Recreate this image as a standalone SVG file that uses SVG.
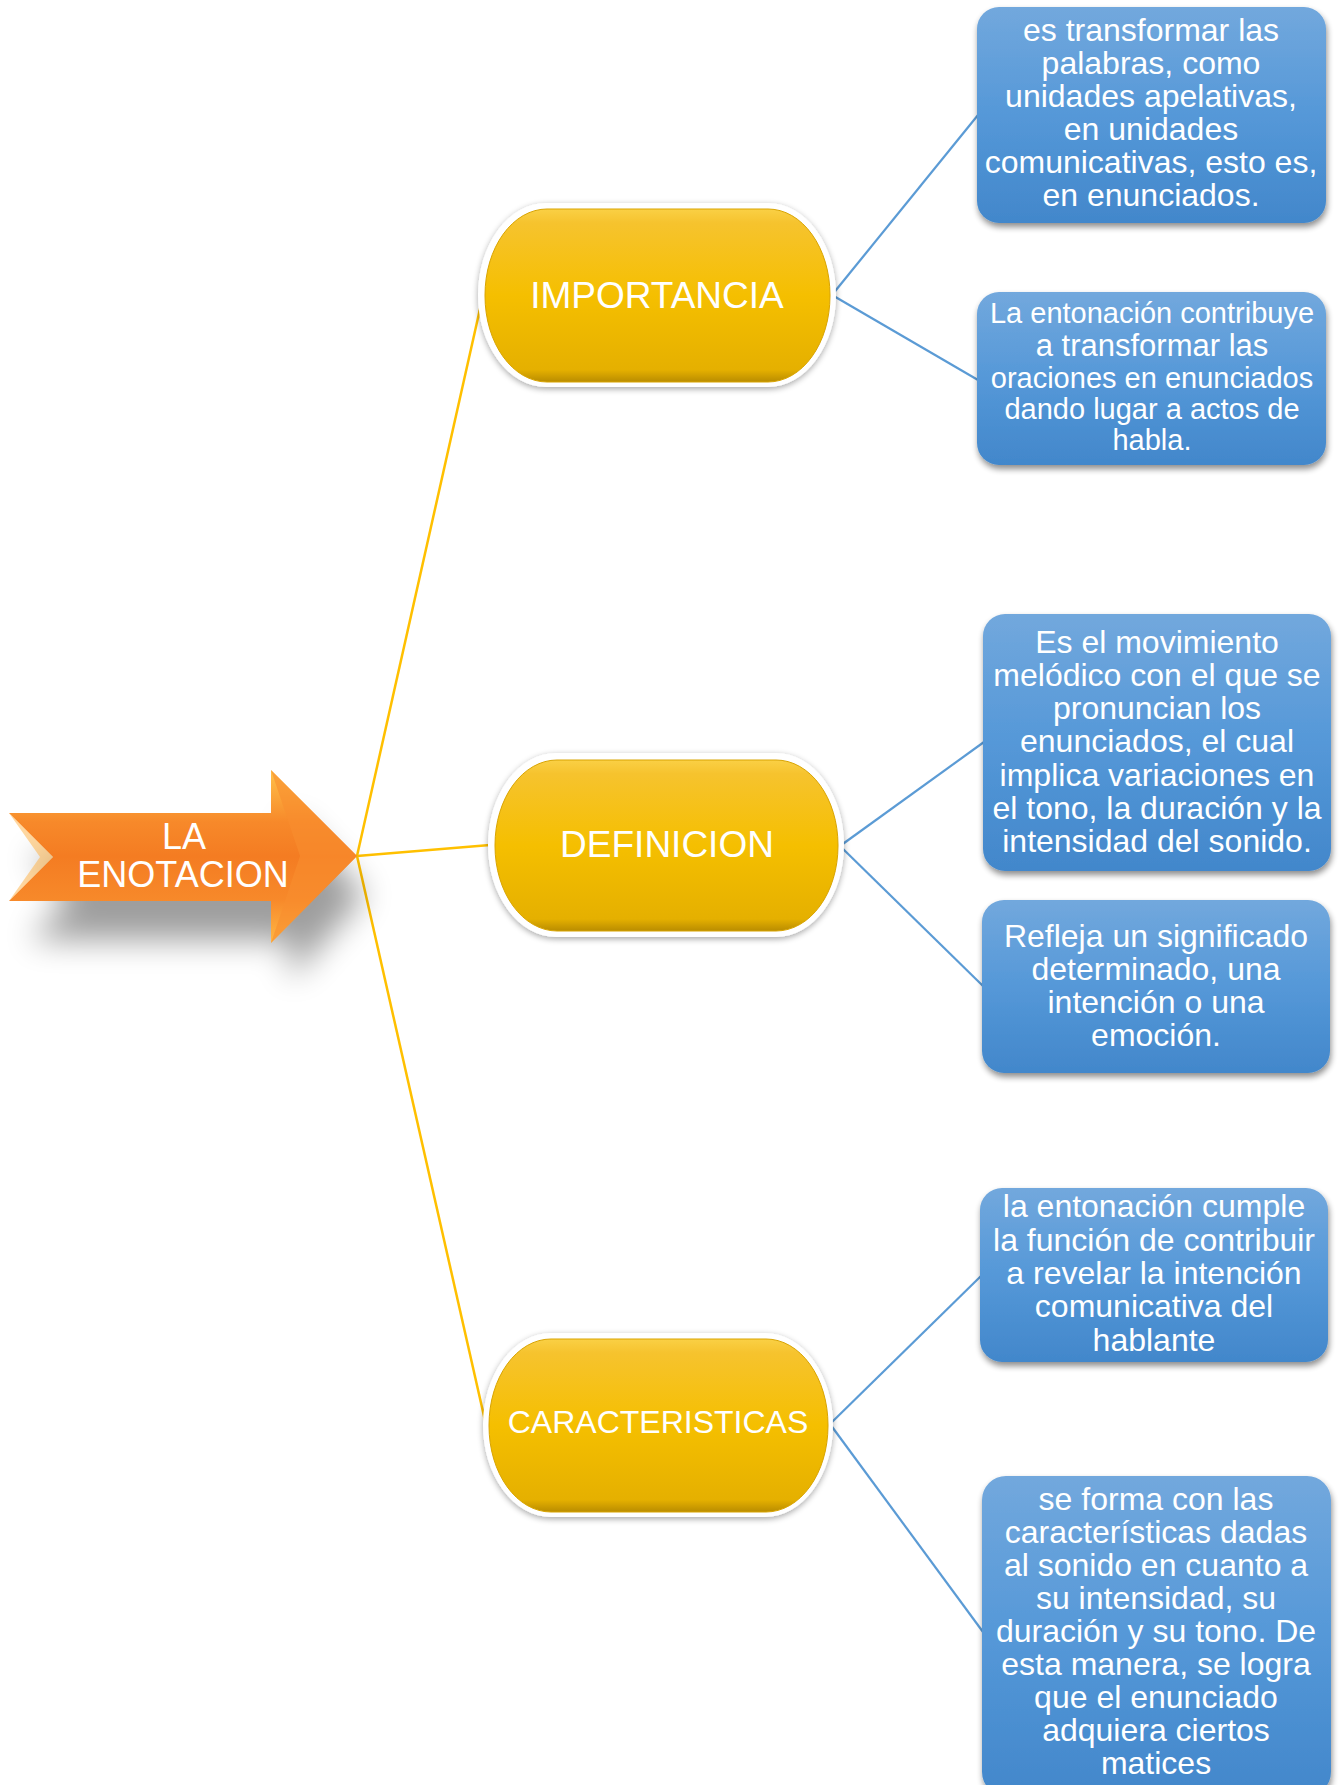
<svg xmlns="http://www.w3.org/2000/svg" width="1339" height="1785" viewBox="0 0 1339 1785">
<style>
.bt{font-family:"Liberation Sans",Arial,sans-serif;fill:#fff;text-anchor:middle;font-size:32px}
.bs{font-size:29px}
.yt{font-family:"Liberation Sans",Arial,sans-serif;fill:#fff;text-anchor:middle}
.yl{stroke:#FFC000;stroke-width:2.5;fill:none}
.bl{stroke:#5B9BD5;stroke-width:2.2;fill:none}
.box{fill:url(#gBlue);filter:url(#shB)}
.ring{fill:#fff;filter:url(#shY)}
.pill{fill:url(#gYel);stroke:#D9A400;stroke-width:1}
</style>
<defs>
<linearGradient id="gBlue" x1="0" y1="0" x2="0" y2="1">
<stop offset="0" stop-color="#72A8DD"/>
<stop offset="0.5" stop-color="#5598D8"/>
<stop offset="1" stop-color="#4287CB"/>
</linearGradient>
<linearGradient id="gYel" x1="0" y1="0" x2="0" y2="1">
<stop offset="0" stop-color="#FAD045"/>
<stop offset="0.08" stop-color="#F6C32E"/>
<stop offset="0.5" stop-color="#F5BF00"/>
<stop offset="0.93" stop-color="#E5B000"/>
<stop offset="1" stop-color="#B98C00"/>
</linearGradient>
<linearGradient id="gArrow" x1="0" y1="0" x2="0" y2="1">
<stop offset="0" stop-color="#FFC24A"/>
<stop offset="0.3" stop-color="#F7892A"/>
<stop offset="0.5" stop-color="#F47C22"/>
<stop offset="0.75" stop-color="#F7892A"/>
<stop offset="1" stop-color="#FFB845"/>
</linearGradient>
<filter id="shB" x="-10%" y="-10%" width="120%" height="130%">
<feGaussianBlur in="SourceAlpha" stdDeviation="3"/>
<feOffset dx="1" dy="4" result="o"/>
<feComponentTransfer><feFuncA type="linear" slope="0.45"/></feComponentTransfer>
<feMerge><feMergeNode/><feMergeNode in="SourceGraphic"/></feMerge>
</filter>
<filter id="shY" x="-10%" y="-10%" width="120%" height="130%">
<feGaussianBlur in="SourceAlpha" stdDeviation="3"/>
<feOffset dx="0" dy="2" result="o"/>
<feComponentTransfer><feFuncA type="linear" slope="0.35"/></feComponentTransfer>
<feMerge><feMergeNode/><feMergeNode in="SourceGraphic"/></feMerge>
</filter>
<filter id="shA" x="-30%" y="-40%" width="160%" height="200%">
<feGaussianBlur stdDeviation="16"/>
</filter>
</defs>

<g id="connectors">
<line class="yl" x1="357" y1="856" x2="482" y2="300"/>
<line class="yl" x1="357" y1="856" x2="490" y2="845"/>
<line class="yl" x1="357" y1="856" x2="486" y2="1425"/>
<line class="bl" x1="832" y1="295" x2="978" y2="115"/>
<line class="bl" x1="832" y1="295" x2="978" y2="380"/>
<line class="bl" x1="840" y1="846" x2="984" y2="742"/>
<line class="bl" x1="840" y1="846" x2="983" y2="986"/>
<line class="bl" x1="830" y1="1424" x2="981" y2="1276"/>
<line class="bl" x1="830" y1="1424" x2="983" y2="1632"/>
</g>

<g id="root">
<polygon points="30,855 290,855 290,815 365,895 290,980 290,940 30,940 70,898" fill="#000" opacity="0.38" filter="url(#shA)"/>
<polygon points="9,813 271,813 271,770 357,856 271,943 271,901 9,901 53,857" fill="url(#gArrow)"/>
<polygon points="271,770 357,856 271,943 300,856" fill="#F98E2E" opacity="0.6"/>
<polygon points="9,813 53,857 9,901 40,857" fill="#FFB040" opacity="0.5"/>
<text class="yt" font-size="36" x="184" y="849">LA</text>
<text class="yt" font-size="36" x="183" y="887">ENOTACION</text>
</g>

<g id="importancia">
<rect class="ring" x="478" y="203" width="358" height="184" rx="68" ry="92"/>
<rect class="pill" x="485" y="209" width="345" height="173" rx="62" ry="86"/>
<text class="yt" font-size="37" x="657" y="308">IMPORTANCIA</text>
</g>

<g id="definicion">
<rect class="ring" x="488" y="753" width="356" height="184" rx="68" ry="92"/>
<rect class="pill" x="495" y="760" width="343" height="171" rx="62" ry="85"/>
<text class="yt" font-size="37" x="667" y="857">DEFINICION</text>
</g>

<g id="caracteristicas">
<rect class="ring" x="483" y="1333" width="350" height="184" rx="68" ry="92"/>
<rect class="pill" x="489" y="1339" width="339" height="173" rx="62" ry="86"/>
<text class="yt" font-size="32" x="658" y="1433">CARACTERISTICAS</text>
</g>

<g id="box1">
<rect class="box" x="977" y="7" width="349" height="216" rx="22"/>
<text class="bt" x="1151" y="41">es transformar las</text>
<text class="bt" x="1151" y="74">palabras, como</text>
<text class="bt" x="1151" y="107">unidades apelativas,</text>
<text class="bt" x="1151" y="140">en unidades</text>
<text class="bt" x="1151" y="173">comunicativas, esto es,</text>
<text class="bt" x="1151" y="206">en enunciados.</text>
</g>

<g id="box2">
<rect class="box" x="977" y="292" width="349" height="173" rx="22"/>
<text class="bt bs" x="1152" y="323">La entonación contribuye</text>
<text class="bt" x="1152" y="356" style="font-size:31px">a transformar las</text>
<text class="bt bs" x="1152" y="388">oraciones en enunciados</text>
<text class="bt bs" x="1152" y="419">dando lugar a actos de</text>
<text class="bt bs" x="1152" y="450">habla.</text>
</g>

<g id="box3">
<rect class="box" x="983" y="614" width="348" height="257" rx="22"/>
<text class="bt" x="1157" y="653">Es el movimiento</text>
<text class="bt" x="1157" y="686">melódico con el que se</text>
<text class="bt" x="1157" y="719">pronuncian los</text>
<text class="bt" x="1157" y="752">enunciados, el cual</text>
<text class="bt" x="1157" y="786">implica variaciones en</text>
<text class="bt" x="1157" y="819">el tono, la duración y la</text>
<text class="bt" x="1157" y="852">intensidad del sonido.</text>
</g>

<g id="box4">
<rect class="box" x="982" y="900" width="348" height="173" rx="22"/>
<text class="bt" x="1156" y="947">Refleja un significado</text>
<text class="bt" x="1156" y="980">determinado, una</text>
<text class="bt" x="1156" y="1013">intención o una</text>
<text class="bt" x="1156" y="1046">emoción.</text>
</g>

<g id="box5">
<rect class="box" x="980" y="1188" width="348" height="174" rx="22"/>
<text class="bt" x="1154" y="1217">la entonación cumple</text>
<text class="bt" x="1154" y="1251">la función de contribuir</text>
<text class="bt" x="1154" y="1284">a revelar la intención</text>
<text class="bt" x="1154" y="1317">comunicativa del</text>
<text class="bt" x="1154" y="1351">hablante</text>
</g>

<g id="box6">
<rect class="box" x="982" y="1476" width="349" height="320" rx="24"/>
<text class="bt" x="1156" y="1510">se forma con las</text>
<text class="bt" x="1156" y="1543">características dadas</text>
<text class="bt" x="1156" y="1576">al sonido en cuanto a</text>
<text class="bt" x="1156" y="1609">su intensidad, su</text>
<text class="bt" x="1156" y="1642">duración y su tono. De</text>
<text class="bt" x="1156" y="1675">esta manera, se logra</text>
<text class="bt" x="1156" y="1708">que el enunciado</text>
<text class="bt" x="1156" y="1741">adquiera ciertos</text>
<text class="bt" x="1156" y="1774">matices</text>
</g>
</svg>
